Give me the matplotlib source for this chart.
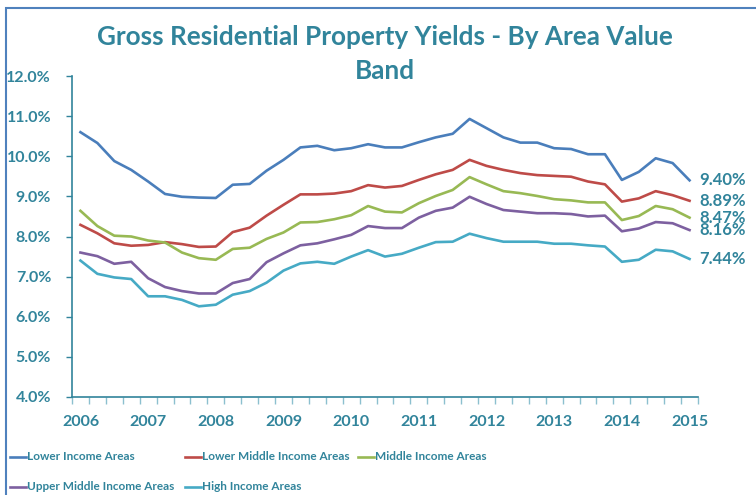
import matplotlib
matplotlib.use("Agg")
import matplotlib.pyplot as plt
from matplotlib.patches import Rectangle
from matplotlib.lines import Line2D
from matplotlib.ticker import FixedLocator, FuncFormatter

plt.rcParams['font.family'] = ['Lato', 'DejaVu Sans']

# quarterly, 2006 Q1 .. 2015 Q1
years = ['2006', '2007', '2008', '2009', '2010', '2011', '2012', '2013', '2014', '2015']

lower = [10.60, 10.33, 9.88, 9.66, 9.37, 9.06, 8.99, 8.97, 8.96, 9.29, 9.31, 9.64, 9.91,
         10.22, 10.26, 10.15, 10.20, 10.30, 10.22, 10.22, 10.35, 10.47, 10.56, 10.93,
         10.70, 10.47, 10.34, 10.34, 10.20, 10.18, 10.05, 10.05, 9.41, 9.61, 9.95, 9.83, 9.40]
lower_mid = [8.29, 8.08, 7.83, 7.77, 7.79, 7.86, 7.81, 7.74, 7.75, 8.11, 8.22, 8.52, 8.79,
             9.05, 9.05, 9.07, 9.13, 9.28, 9.22, 9.26, 9.41, 9.55, 9.66, 9.91,
             9.76, 9.66, 9.58, 9.53, 9.51, 9.49, 9.37, 9.30, 8.87, 8.95, 9.13, 9.03, 8.89]
middle = [8.64, 8.26, 8.02, 8.00, 7.90, 7.85, 7.60, 7.46, 7.42, 7.69, 7.72, 7.94, 8.10,
          8.35, 8.36, 8.43, 8.53, 8.76, 8.62, 8.60, 8.83, 9.01, 9.16, 9.48,
          9.30, 9.13, 9.08, 9.01, 8.93, 8.90, 8.85, 8.85, 8.41, 8.51, 8.76, 8.68, 8.47]
upper_mid = [7.60, 7.51, 7.32, 7.37, 6.96, 6.74, 6.64, 6.58, 6.58, 6.84, 6.94, 7.36, 7.58,
             7.78, 7.83, 7.93, 8.04, 8.26, 8.21, 8.21, 8.47, 8.64, 8.72, 8.99,
             8.81, 8.66, 8.62, 8.58, 8.58, 8.56, 8.50, 8.52, 8.13, 8.20, 8.36, 8.33, 8.16]
high = [7.40, 7.07, 6.98, 6.94, 6.51, 6.51, 6.42, 6.26, 6.30, 6.55, 6.64, 6.85, 7.15,
        7.33, 7.37, 7.32, 7.50, 7.66, 7.50, 7.57, 7.72, 7.86, 7.87, 8.07,
        7.96, 7.87, 7.87, 7.87, 7.82, 7.82, 7.78, 7.75, 7.37, 7.42, 7.67, 7.63, 7.44]

names = ['Lower Income Areas', 'Lower Middle Income Areas', 'Middle Income Areas',
         'Upper Middle Income Areas', 'High Income Areas']
series = [lower, lower_mid, middle, upper_mid, high]
colors = ['#4A7EBB', '#BE4B48', '#98B954', '#7D60A0', '#46AAC5']
teal = '#31849B'

W, H = 756, 495
fig = plt.figure(figsize=(W / 100, H / 100), dpi=100)
fig.patches.append(Rectangle((6 / W, -0.1), 1.2, 1 - 8 / H + 0.1, transform=fig.transFigure,
                             fill=False, edgecolor='#4F81BD', linewidth=1.5))
ax = fig.add_axes([72 / W, 1 - 397 / H, 626 / W, 321 / H])

x = list(range(len(lower)))
for vals, name, c in zip(series, names, colors):
    ax.plot(x, vals, color=c, lw=1.9, label=name, solid_joinstyle='round')
    ax.text(x[-1] + 0.6, vals[-1], '%.2f%%' % vals[-1], color=teal, fontsize=12,
            fontweight='bold', va='center', ha='left', clip_on=False)

ax.set_xlim(-0.5, len(x) - 0.5)
ax.set_ylim(4, 12)
ax.set_yticks([4, 5, 6, 7, 8, 9, 10, 11, 12])
ax.yaxis.set_major_formatter(FuncFormatter(lambda v, p: '%.1f%%' % v))
ax.set_xticks(list(range(0, len(x), 4)))
ax.set_xticklabels(years)
ax.xaxis.set_minor_locator(FixedLocator([i - 0.5 for i in range(len(x) + 1)]))

for s in ['top', 'right']:
    ax.spines[s].set_visible(False)
for s in ['left', 'bottom']:
    ax.spines[s].set_color(teal)
    ax.spines[s].set_linewidth(1.2)

ax.tick_params(axis='y', colors=teal, length=4, width=1, pad=11, labelsize=11.5)
ax.tick_params(axis='x', which='major', length=0, pad=13, labelsize=11.5, labelcolor=teal)
ax.tick_params(axis='x', which='minor', length=5, width=1, color='#8CC0CF')
for lab in ax.get_xticklabels() + ax.get_yticklabels():
    lab.set_fontweight('bold')

fig.text(385 / W, 1 - 37 / H, 'Gross Residential Property Yields - By Area Value',
         ha='center', va='center', color=teal, fontsize=18.8, fontweight='bold')
fig.text(385 / W, 1 - 71 / H, 'Band',
         ha='center', va='center', color=teal, fontsize=18.8, fontweight='bold')

# legend, two rows in Excel style
leg_x = [10, 185, 358, 10, 185]
leg_y = [457, 457, 457, 487, 487]
for name, c, lx, ly in zip(names, colors, leg_x, leg_y):
    yy = 1 - ly / H
    fig.add_artist(Line2D([lx / W, (lx + 16) / W], [yy, yy], color=c, lw=1.9,
                          transform=fig.transFigure))
    fig.text((lx + 17) / W, yy, name, color=teal, fontsize=8.5, fontweight='bold',
             va='center', ha='left')

fig.savefig('out.png', dpi=100)
